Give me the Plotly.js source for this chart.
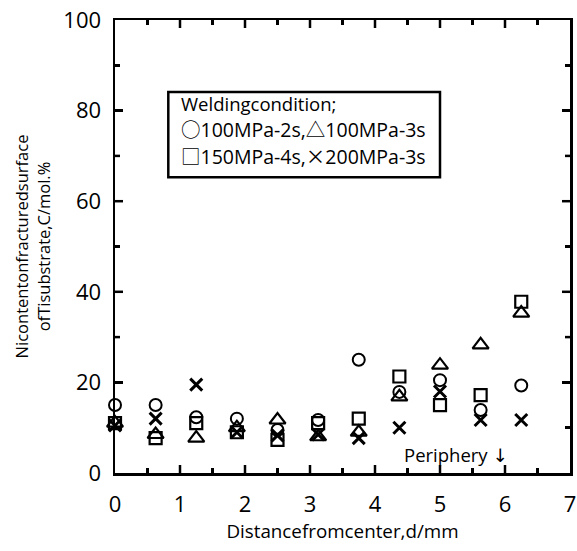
<!DOCTYPE html>
<html>
<head>
<meta charset="utf-8">
<script src="https://cdn.plot.ly/plotly-3.0.1.min.js"></script>
<style>
  html, body { margin: 0; padding: 0; background: #fff; }
  #chart { width: 577px; height: 551px; }
</style>
</head>
<body>
<div id="chart"></div>
<script>
// Measurement positions from the joint centre (mm)
const distance = [0, 0.625, 1.25, 1.875, 2.5, 3.125, 3.75, 4.375, 5.0, 5.625, 6.25];

// Ni content (mol.%) for each welding condition
const ni_100MPa_2s = [15.0, 15.0, 12.3, 12.0, 9.5, 11.7, 25.0, 17.9, 20.5, 13.9, 19.3];
const ni_100MPa_3s = [11.0, 8.5, 7.7, 10.0, 11.7, 8.0, 9.0, 16.8, 23.8, 28.3, 35.3];
const ni_150MPa_4s = [11.0, 7.7, 11.0, 9.0, 7.3, 11.0, 12.0, 21.3, 15.0, 17.2, 37.8];
const ni_200MPa_3s = [10.5, 12.0, 19.5, 9.0, 8.3, 8.5, 7.7, 10.0, 18.0, 11.7, 11.7];

// Axis ranges and tick steps
const xRange = [0, 7], xStep = 1, xMinorStep = 0.5;
const yRange = [0, 100], yStep = 20, yMinorStep = 10;

const W = 577, H = 551;
const MARGIN = { l: 115, r: 7, t: 20, b: 78 };

const FONT = '"Open Sans", "Noto Sans CJK JP", sans-serif';
const SYM = '<span style="font-family:\'Noto Sans CJK JP\'">';

function series(y, symbol, size, width) {
  return {
    type: 'scatter', mode: 'markers', x: distance, y: y,
    showlegend: false, cliponaxis: false,
    marker: { symbol: symbol, size: size, color: '#000',
              line: { color: '#000', width: width } }
  };
}

// Inward tick marks on all four sides of the frame, drawn as one line trace.
// Tick lengths are given in pixels and converted to axis units.
function tickTrace() {
  const xPerPx = (xRange[1] - xRange[0]) / (W - MARGIN.l - MARGIN.r);
  const yPerPx = (yRange[1] - yRange[0]) / (H - MARGIN.t - MARGIN.b);
  const MAJOR = 8, MINOR = 5;
  const xs = [], ys = [];
  const isMajor = (v, step) => Math.abs(v / step - Math.round(v / step)) < 1e-9;
  const nx = Math.round((xRange[1] - xRange[0]) / xMinorStep);
  for (let i = 1; i < nx; i++) {
    const v = xRange[0] + i * xMinorStep;
    const dy = (isMajor(v, xStep) ? MAJOR : MINOR) * yPerPx;
    xs.push(v, v, null, v, v, null);
    ys.push(yRange[0], yRange[0] + dy, null, yRange[1], yRange[1] - dy, null);
  }
  const ny = Math.round((yRange[1] - yRange[0]) / yMinorStep);
  for (let i = 1; i < ny; i++) {
    const v = yRange[0] + i * yMinorStep;
    const dx = (isMajor(v, yStep) ? MAJOR : MINOR) * xPerPx;
    xs.push(xRange[0], xRange[0] + dx, null, xRange[1], xRange[1] - dx, null);
    ys.push(v, v, null, v, v, null);
  }
  return { type: 'scatter', mode: 'lines', x: xs, y: ys, connectgaps: false,
           showlegend: false, hoverinfo: 'skip', cliponaxis: false,
           line: { color: '#000', width: 2.5 } };
}

const traces = [
  tickTrace(),
  series(ni_100MPa_2s, 'circle-open', 12, 2),
  series(ni_100MPa_3s, 'triangle-up-open', 14, 2.2),
  series(ni_150MPa_4s, 'square-open', 12, 2.2),
  series(ni_200MPa_3s, 'x-thin-open', 12, 3)
];

// Frame, inward ticks and tick labels
const axisCommon = {
  showgrid: false, zeroline: false,
  showline: true, linecolor: '#000', linewidth: 2.5, mirror: 'allticks',
  ticks: 'inside', ticklen: 8, tickwidth: 2.5, tickcolor: '#000',
  layer: 'above traces',
  tickfont: { family: FONT, size: 22, color: '#000' }
};

const layout = {
  width: W, height: H,
  margin: MARGIN,
  paper_bgcolor: '#fff', plot_bgcolor: 'rgba(0,0,0,0)',
  font: { family: FONT, color: '#000' },
  xaxis: Object.assign({}, axisCommon, {
    range: xRange, tickmode: 'linear', tick0: 0, dtick: xStep,
    minor: { ticks: 'inside', ticklen: 5, tickwidth: 2.5, tickcolor: '#000',
             tickmode: 'linear', tick0: 0, dtick: xMinorStep, showgrid: false },
    ticklabelstandoff: 10,
    title: { text: 'Distancefromcenter,d/mm', font: { family: FONT, size: 18.8 }, standoff: 5 }
  }),
  yaxis: Object.assign({}, axisCommon, {
    range: yRange, tickmode: 'linear', tick0: 0, dtick: yStep,
    minor: { ticks: 'inside', ticklen: 5, tickwidth: 2.5, tickcolor: '#000',
             tickmode: 'linear', tick0: 0, dtick: yMinorStep, showgrid: false },
    ticklabelstandoff: 7,
    title: { text: 'Nicontentonfracturedsurface<br>ofTisubstrate,C/mol.%',
             font: { family: FONT, size: 16.5 }, standoff: 9 }
  }),
  shapes: [{
    type: 'rect', xref: 'x', yref: 'y',
    x0: 0.82, x1: 5.0, y0: 65.3, y1: 84.1,
    line: { color: '#000', width: 2.5 }, fillcolor: '#fff', layer: 'below'
  }],
  annotations: [
    { text: 'Weldingcondition;', x: 0.99, y: 81.6, size: 18.5 },
    { text: SYM + '○</span>100MPa-2s,' + SYM + '△</span>100MPa-3s', x: 0.99, y: 76.0, size: 19.5 },
    { text: SYM + '□</span>150MPa-4s,' + SYM + '×</span>200MPa-3s', x: 0.99, y: 70.0, size: 19.5 }
  ].map(a => ({
    text: a.text, x: a.x, y: a.y,
    xref: 'x', yref: 'y', xanchor: 'left', yanchor: 'middle', showarrow: false,
    font: { family: FONT, size: a.size, color: '#000' }
  })).concat([{
    text: 'Periphery <span style="font-family:\'DejaVu Sans\'">↓</span>',
    x: 5.25, y: 4.0, xref: 'x', yref: 'y',
    xanchor: 'center', yanchor: 'middle', showarrow: false,
    font: { family: FONT, size: 18.5, color: '#000' }
  }])
};

Plotly.newPlot('chart', traces, layout, { displayModeBar: false, staticPlot: true });
</script>
</body>
</html>
